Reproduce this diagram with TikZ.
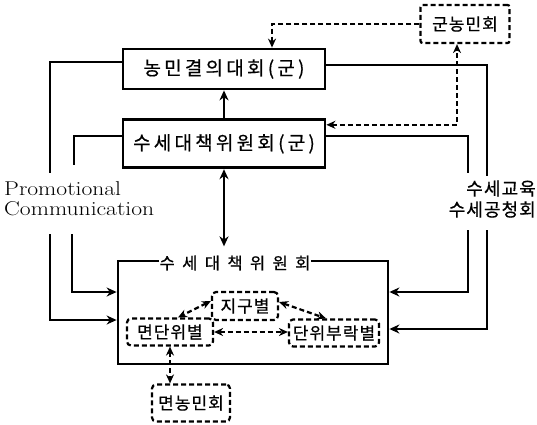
\documentclass[tikz,border=0pt]{standalone}
\usepackage{fontspec}
\usepackage{tikz}
\usetikzlibrary{arrows.meta, positioning}
\newfontfamily\krbox[LetterSpace=17, FakeBold=0.6]{Noto Sans CJK KR}
\newfontfamily\krwide[LetterSpace=45, FakeBold=0.6]{Noto Sans CJK KR}
\newfontfamily\krsub[LetterSpace=6, FakeBold=0.6]{Noto Sans CJK KR}
\newfontfamily\promofont[FakeStretch=1.18]{Latin Modern Roman}
\tikzset{
  block/.style={rectangle, draw=black, line width=2.8pt, minimum width=202pt,
                inner sep=0pt, font=\krbox\fontsize{19}{21}\selectfont},
  dbox/.style={rectangle, draw=black, dash pattern=on 5pt off 3pt,
               rounded corners=4pt, line width=2.2pt, inner sep=0pt,
               font=\krsub\fontsize{17}{19}\selectfont},
  link/.style={draw=black, line width=2.4pt},
  arrow/.style={link, -{Stealth[length=10pt, width=9pt]}},
  dlink/.style={draw=black, line width=2.2pt, dash pattern=on 5pt off 3pt},
  darrow/.style={dlink, {Stealth[length=9pt, width=8pt]}-{Stealth[length=9pt, width=8pt]}},
  tag/.style={inner sep=0pt},
}

\begin{document}
\begin{tikzpicture}[x=1pt, y=-1pt]
  \useasboundingbox (0,0) rectangle (537,424);
  \node[block, minimum height=40pt] (rally) at (224,69) {농민결의대회(군)};
  \node[block, minimum height=48pt, below=28pt of rally] (cntcomm) {수세대책위원회(군)};
  \node[dbox, rounded corners=2pt, minimum width=89pt, minimum height=38pt] (cntfarm) at (465,24) {군농민회};

  \node[rectangle, draw=black, line width=2.8pt, minimum width=270pt,
        minimum height=103pt] (town) at (253,312.5) {};
  \node[tag, fill=white, inner sep=1pt, font=\krwide\fontsize{16.5}{18}\selectfont]
    (towntitle) at (235,263) {수세대책위원회};
  \node[dbox, minimum width=66pt, minimum height=28pt] (zone) at (245,306) {지구별};
  \node[dbox, minimum width=86pt, minimum height=27pt] (myeon) at (170,332) {면단위별};
  \node[dbox, minimum width=90pt, minimum height=27pt] (hamlet) at (334,333) {단위부락별};
  \node[dbox, minimum width=78pt, minimum height=37pt] (myeonfarm) at (191,403) {면농민회};

  \node[tag, anchor=west, align=left, font=\promofont\fontsize{20}{20}\selectfont]
    (promo) at (4,199) {Promotional\\Communication};
  \node[tag, anchor=east, align=right, font=\krsub\fontsize{18}{21}\selectfont]
    (edu) at (536,199) {수세교육\\수세공청회};

  \coordinate (pA) at (50,173);  \coordinate (pB) at (74,165);
  \coordinate (pC) at (50,234);  \coordinate (pD) at (72,234);
  \coordinate (eA) at (487,176); \coordinate (eB) at (468,173);
  \coordinate (eC) at (487,230); \coordinate (eD) at (468,230);

  \draw[arrow] (cntcomm) -- (rally);
  \draw[link, {Stealth[length=10pt, width=9pt]}-{Stealth[length=10pt, width=9pt]},
        shorten >=8pt] (cntcomm.south) -- (cntcomm.south |- towntitle.north);
  \draw[dlink, -{Stealth[length=9pt, width=8pt]}] (cntfarm.west) -| ([xshift=48pt]rally.north);
  \draw[darrow] ([yshift=19pt]cntcomm.east) -| ([xshift=-8pt]cntfarm.south);

  \draw[link] ([yshift=4pt]rally.east) -| (eA);
  \draw[link] ([yshift=8pt]cntcomm.east) -| (eB);
  \draw[link] ([yshift=7pt]rally.west) -| (pA);
  \draw[link] ([yshift=8pt]cntcomm.west) -| (pB);
  \draw[arrow] (pC) |- ([yshift=-7.5pt]town.west);
  \draw[arrow] (pD) |- ([yshift=20.5pt]town.west);
  \draw[arrow] (eC) |- ([yshift=-16.5pt]town.east);
  \draw[arrow] (eD) |- ([yshift=20.5pt]town.east);

  \draw[darrow] (myeon.east) -- (myeon.east -| hamlet.west);
  \draw[darrow] ([yshift=5pt]zone.west) -- ([xshift=8pt]myeon.north);
  \draw[darrow] ([yshift=4pt]zone.east) -- ([xshift=-8pt]hamlet.north);
  \draw[darrow] (myeon.south) -- (myeon.south |- myeonfarm.north);
\end{tikzpicture}
\end{document}
